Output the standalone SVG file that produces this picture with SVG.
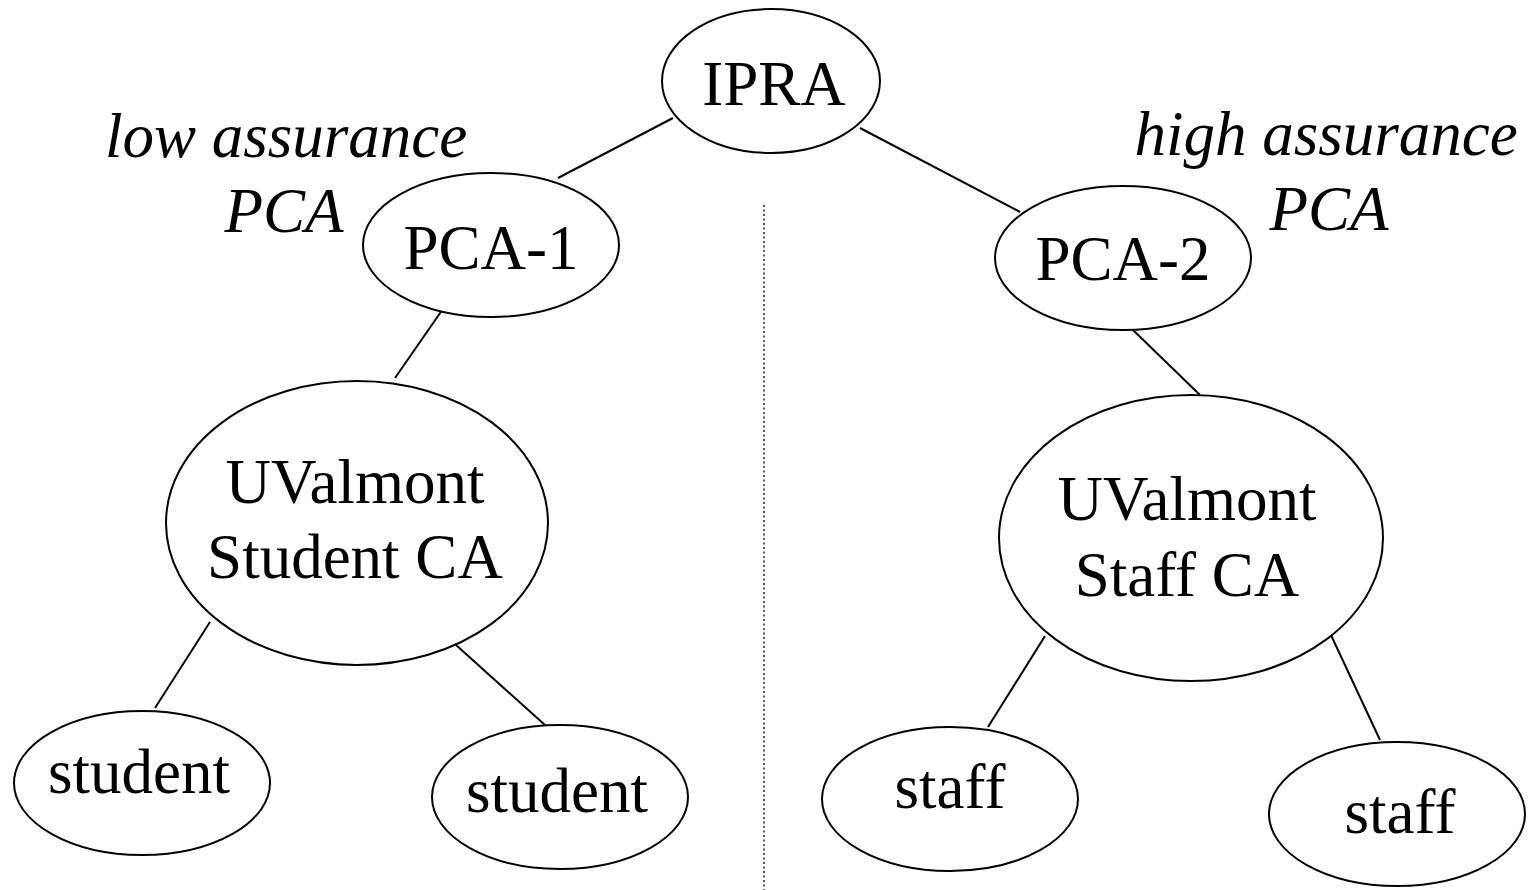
<svg xmlns="http://www.w3.org/2000/svg" width="1528" height="890" viewBox="0 0 1528 890">
<style>
.n{fill:#fff;stroke:#000;stroke-width:2}
.t{font-family:"Liberation Serif","Times New Roman",serif;font-size:63px;fill:#000;text-anchor:middle}
.i{font-style:italic}
.c{stroke:#000;stroke-width:2;fill:none}
</style>
<rect width="1528" height="890" fill="#fff"/>
<g id="connectors">
<line class="c" x1="673" y1="118" x2="558" y2="178"/>
<line class="c" x1="860" y1="128" x2="1020" y2="212"/>
<line class="c" x1="445" y1="306" x2="395" y2="378"/>
<line class="c" x1="1133" y1="330" x2="1200" y2="395"/>
<line class="c" x1="210" y1="622" x2="155" y2="708"/>
<line class="c" x1="456" y1="645" x2="545" y2="725"/>
<line class="c" x1="1045" y1="636" x2="988" y2="727"/>
<line class="c" x1="1330" y1="633" x2="1380" y2="740"/>
<line x1="764" y1="205" x2="764" y2="890" stroke="#000" stroke-width="1.3" stroke-dasharray="2,2.5"/>
</g>
<g id="ipra"><ellipse class="n" cx="771" cy="81" rx="109" ry="72"/><text class="t" x="774" y="105">IPRA</text></g>
<g id="pca1"><ellipse class="n" cx="491" cy="245" rx="128" ry="72"/><text class="t" x="491" y="269">PCA-1</text></g>
<g id="pca2"><ellipse class="n" cx="1123" cy="258" rx="128" ry="72"/><text class="t" x="1123" y="280">PCA-2</text></g>
<g id="studentca"><ellipse class="n" cx="357" cy="523" rx="191" ry="142"/><text class="t" x="355" y="503">UValmont</text><text class="t" x="355" y="578">Student CA</text></g>
<g id="staffca"><ellipse class="n" cx="1191" cy="538" rx="192" ry="143"/><text class="t" x="1187" y="520">UValmont</text><text class="t" x="1187" y="596">Staff CA</text></g>
<g id="student1"><ellipse class="n" cx="142" cy="783" rx="128" ry="72"/><text class="t" x="139" y="793">student</text></g>
<g id="student2"><ellipse class="n" cx="560" cy="797" rx="128" ry="72"/><text class="t" x="557" y="812">student</text></g>
<g id="staff1"><ellipse class="n" cx="950" cy="799" rx="128" ry="72"/><text class="t" x="950" y="808">staff</text></g>
<g id="staff2"><ellipse class="n" cx="1397" cy="814" rx="128" ry="72"/><text class="t" x="1400" y="833">staff</text></g>
<g id="labels">
<text class="t i" x="286" y="157">low assurance</text>
<text class="t i" x="284" y="232">PCA</text>
<text class="t i" x="1326" y="155">high assurance</text>
<text class="t i" x="1329" y="230">PCA</text>
</g>
</svg>
